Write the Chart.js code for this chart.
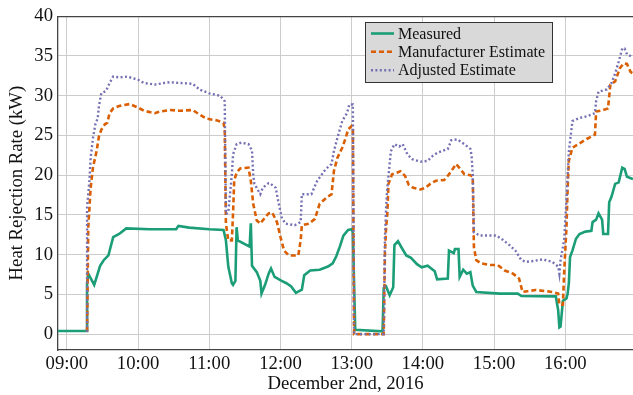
<!DOCTYPE html>
<html>
<head>
<meta charset="utf-8">
<script src="https://cdn.jsdelivr.net/npm/chart.js@4/dist/chart.umd.min.js"></script>
<style>
html,body{margin:0;padding:0;background:#ffffff;}
#wrap{width:633px;height:395px;position:relative;}
</style>
</head>
<body>
<div id="wrap"><canvas id="c" width="633" height="395"></canvas></div>
<script>
// ---- data ----
const xTickHours = [9, 10, 11, 12, 13, 14, 15, 16];
const yTickValues = [0, 5, 10, 15, 20, 25, 30, 35, 40];
const seriesNames = ['Measured', 'Manufacturer Estimate', 'Adjusted Estimate'];
const xTitle = 'December 2nd, 2016';
const yTitle = 'Heat Rejection Rate (kW)';

const measuredTimes = ["08:52","09:17","09:17","09:18","09:23","09:28","09:31","09:35","09:39","09:44","09:50","10:10","10:32","10:34","10:43","11:00","11:12","11:14","11:16","11:19","11:20","11:22","11:23","11:24","11:34","11:35","11:36","11:40","11:43","11:44","11:47","11:50","11:52","11:55","12:01","12:05","12:09","12:13","12:18","12:20","12:25","12:33","12:40","12:44","12:47","12:50","12:53","12:57","13:00","13:01","13:02","13:03","13:26","13:27","13:29","13:32","13:35","13:36","13:39","13:42","13:46","13:50","13:55","13:59","14:04","14:10","14:12","14:21","14:22","14:26","14:27","14:30","14:31","14:34","14:37","14:40","14:42","14:45","15:05","15:20","15:23","15:52","15:54","15:55","15:56","15:58","16:01","16:02","16:03","16:04","16:06","16:09","16:12","16:17","16:22","16:23","16:26","16:28","16:31","16:32","16:36","16:37","16:39","16:42","16:45","16:48","16:50","16:52","16:57"];
const measuredValues = [0.4,0.4,6.4,7.6,6.2,8.6,9.3,9.9,12.2,12.6,13.3,13.2,13.2,13.6,13.4,13.2,13.1,11.8,8.5,6.4,6.2,6.7,13.45,11.8,11.0,13.95,8.6,7.8,6.7,5.1,6.2,7.6,8.25,7.2,6.7,6.4,6.0,5.2,5.6,7.4,8.0,8.1,8.5,8.9,9.8,11.0,12.4,13.1,13.2,12.8,6.4,0.55,0.35,5.8,6.0,4.9,5.9,11.2,11.7,10.9,9.9,9.6,8.8,8.4,8.6,7.9,6.9,7.0,10.5,10.2,10.7,10.7,7.2,8.1,7.6,7.8,6.1,5.3,5.1,5.1,4.8,4.75,3.0,0.85,0.95,4.2,4.5,5.1,6.4,9.7,10.5,12.0,12.6,12.9,13.0,14.1,14.4,15.2,14.4,12.6,12.6,16.6,17.3,18.9,19.1,20.95,20.8,19.8,19.5];

const manufacturerTimes = ["09:17","09:18","09:20","09:22","09:25","09:27","09:29","09:32","09:34","09:36","09:39","09:44","09:53","10:00","10:05","10:14","10:18","10:27","10:35","10:46","10:51","10:58","11:06","11:12","11:13","11:14","11:16","11:19","11:20","11:21","11:23","11:26","11:33","11:35","11:37","11:40","11:43","11:45","11:50","11:53","11:57","12:00","12:03","12:07","12:15","12:17","12:18","12:24","12:29","12:33","12:39","12:43","12:45","12:48","12:52","12:55","12:57","13:00","13:01","13:02","13:27","13:28","13:29","13:30","13:31","13:34","13:38","13:41","13:45","13:48","13:52","13:58","14:02","14:07","14:11","14:18","14:22","14:26","14:28","14:32","14:35","14:40","14:42","14:43","14:45","14:49","14:56","15:03","15:09","15:16","15:21","15:24","15:28","15:35","15:44","15:49","15:54","15:55","15:58","15:59","16:01","16:02","16:03","16:06","16:12","16:18","16:25","16:26","16:32","16:36","16:38","16:42","16:46","16:49","16:52","16:55","16:57"];
const manufacturerValues = [0.3,13.4,18.4,21.0,23.0,24.9,25.7,26.4,26.6,27.8,28.4,28.7,28.95,28.5,28.1,27.8,28.0,28.2,28.1,28.2,27.7,27.1,26.9,26.6,25.7,13.9,11.8,11.8,15.1,19.3,20.3,20.85,20.95,19.3,16.4,14.3,13.9,14.3,15.2,15.3,14.1,12.2,10.5,9.9,9.9,11.8,13.7,13.9,14.5,16.4,17.2,17.6,20.5,22.2,23.45,24.7,25.75,26.2,26.0,0.0,0.0,10.1,13.4,15.1,18.9,20.1,20.3,20.5,19.9,18.8,18.4,18.2,18.4,19.0,19.3,19.4,20.1,20.95,21.4,20.7,20.1,20.0,19.8,10.95,9.3,8.9,8.7,8.7,8.0,7.6,7.0,5.3,5.4,5.55,5.4,5.3,5.1,3.7,3.7,7.6,13.45,18.45,21.8,23.45,24.0,24.55,25.1,28.0,28.2,28.4,31.4,31.8,33.45,34.05,34.0,33.0,32.8];

const adjustedTimes = ["09:17","09:17","09:19","09:20","09:22","09:24","09:26","09:27","09:29","09:33","09:36","09:39","09:44","09:51","10:00","10:05","10:14","10:22","10:27","10:35","10:46","10:52","11:00","11:09","11:12","11:13","11:14","11:16","11:19","11:20","11:23","11:27","11:33","11:36","11:37","11:38","11:43","11:45","11:50","11:51","11:56","11:58","12:01","12:04","12:12","12:17","12:18","12:26","12:31","12:38","12:43","12:45","12:48","12:52","12:56","12:58","13:01","13:02","13:27","13:28","13:29","13:30","13:33","13:36","13:40","13:43","13:47","13:51","13:58","14:04","14:08","14:12","14:21","14:24","14:29","14:35","14:40","14:41","14:42","14:43","14:48","15:02","15:07","15:13","15:18","15:23","15:27","15:33","15:41","15:49","15:54","15:55","15:56","15:59","16:01","16:02","16:03","16:06","16:12","16:18","16:25","16:26","16:28","16:35","16:39","16:42","16:45","16:48","16:50","16:52","16:55","16:57"];
const adjustedValues = [0.3,16.0,19.3,22.2,24.7,26.4,27.2,28.7,30.3,30.6,31.6,32.4,32.3,32.4,32.0,31.6,31.4,31.6,31.7,31.6,31.5,30.75,30.3,30.0,29.5,29.3,15.1,15.3,20.1,22.6,23.9,24.1,23.9,23.1,20.1,18.9,17.6,18.4,19.0,19.0,18.4,16.8,14.7,13.9,13.7,14.1,17.6,17.6,19.3,20.75,21.4,23.0,24.7,26.8,27.8,28.9,28.9,0.0,0.0,12.0,15.95,18.4,23.0,23.9,23.6,23.9,22.6,22.0,21.7,21.8,22.4,22.8,23.3,24.4,24.5,23.9,23.3,22.5,20.1,12.8,12.4,12.4,11.9,11.2,10.5,9.3,9.1,9.2,9.4,9.1,8.5,7.6,9.3,11.8,16.8,20.1,22.95,26.8,27.2,27.4,27.8,29.3,30.5,30.8,31.6,32.8,34.3,35.95,35.95,35.2,35.0,34.8];

// ---- helpers ----
function toHours(s) { const p = s.split(':').map(Number); return p[0] + p[1] / 60; }
function pts(times, values) { return times.map((t, i) => ({ x: toHours(t), y: values[i] })); }

const SERIF = "'Liberation Serif', 'DejaVu Serif', serif";
const colors = ['#1b9e77', '#d95f02', '#7570b3'];
const dashes = [[], [5, 3], [2, 2.4]];
const widths = [2.6, 2.6, 2.4];

const framePlugin = {
  id: 'frame',
  afterDatasetsDraw(chart) {
    const { ctx, chartArea: a } = chart;
    ctx.save();
    // top frame line
    ctx.strokeStyle = '#444';
    ctx.lineWidth = 1.3;
    ctx.beginPath();
    ctx.moveTo(a.left, a.top + 0.5);
    ctx.lineTo(a.right, a.top + 0.5);
    ctx.stroke();

    // legend box
    const bx = 365.5, by = 22.5, bw = 187, bh = 60;
    ctx.fillStyle = '#d9d9d9';
    ctx.fillRect(bx, by, bw, bh);
    ctx.strokeStyle = '#333';
    ctx.lineWidth = 1;
    ctx.strokeRect(bx, by, bw, bh);
    const rows = [33.5, 51.8, 70.2];
    ctx.font = '16px ' + SERIF;
    ctx.textBaseline = 'middle';
    ctx.textAlign = 'left';
    seriesNames.forEach((name, i) => {
      ctx.save();
      ctx.strokeStyle = colors[i];
      ctx.lineWidth = widths[i];
      ctx.setLineDash(dashes[i]);
      ctx.beginPath();
      ctx.moveTo(371, rows[i]);
      ctx.lineTo(394, rows[i]);
      ctx.stroke();
      ctx.restore();
      ctx.fillStyle = '#111';
      ctx.fillText(name, 398, rows[i] + 1);
    });
    ctx.restore();
  }
};

const ds = [
  pts(measuredTimes, measuredValues),
  pts(manufacturerTimes, manufacturerValues),
  pts(adjustedTimes, adjustedValues)
];

new Chart(document.getElementById('c').getContext('2d'), {
  type: 'line',
  data: {
    datasets: ds.map((d, i) => ({
      label: seriesNames[i],
      data: d,
      borderColor: colors[i],
      backgroundColor: colors[i],
      borderWidth: widths[i],
      borderDash: dashes[i],
      pointRadius: 0,
      tension: 0,
      fill: false,
      order: 3 - i
    }))
  },
  options: {
    responsive: false,
    animation: false,
    devicePixelRatio: 1,
    layout: { padding: { top: 14, left: 0, right: 0, bottom: 0 } },
    plugins: { legend: { display: false }, tooltip: { enabled: false } },
    scales: {
      x: {
        type: 'linear',
        min: 8.875,
        max: 16.951,
        afterBuildTicks: s => { s.ticks = xTickHours.map(v => ({ value: v })); },
        afterFit: s => { s.height = 45; },
        ticks: {
          callback: v => String(v).padStart(2, '0') + ':00',
          font: { family: SERIF, size: 18.7 },
          color: '#111',
          padding: 3,
          maxRotation: 0,
          autoSkip: false
        },
        grid: { color: '#cccccc', lineWidth: 1, drawTicks: false },
        border: { color: '#444', width: 1.3 },
        title: { display: true, text: xTitle, font: { family: SERIF, size: 18.7 }, color: '#111', padding: { top: 0, bottom: 0 } }
      },
      y: {
        min: -2,
        max: 40,
        afterBuildTicks: s => { s.ticks = yTickValues.map(v => ({ value: v })); },
        afterFit: s => { s.width = 58; },
        ticks: {
          font: { family: SERIF, size: 18.7 },
          color: '#111',
          padding: 5
        },
        grid: { color: '#cccccc', lineWidth: 1, drawTicks: false },
        border: { color: '#444', width: 1.3 },
        title: { display: true, text: yTitle, font: { family: SERIF, size: 18.7 }, color: '#111', padding: { top: 6, bottom: 0 } }
      }
    }
  },
  plugins: [framePlugin]
});
</script>
</body>
</html>
